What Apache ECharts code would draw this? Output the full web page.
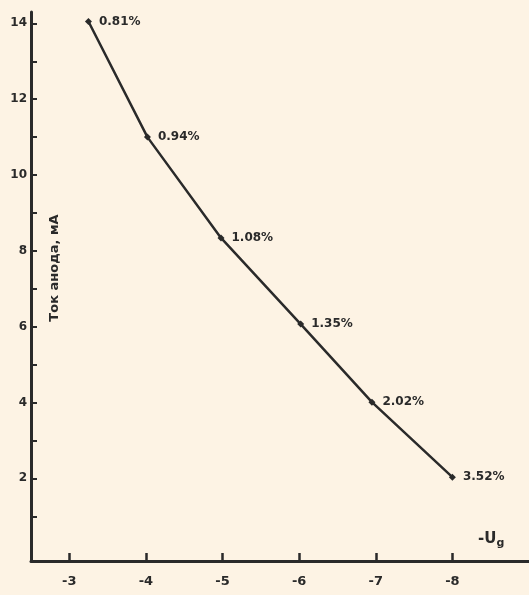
<!DOCTYPE html>
<html><head><meta charset="utf-8">
<script src="https://cdn.jsdelivr.net/npm/echarts@6/dist/echarts.min.js"></script>
<style>html,body{margin:0;padding:0;background:#fdf3e4;}#c{width:529px;height:595px;}</style>
</head><body><div id="c"></div>
<script>
var gridVoltage = [-3.25, -4.02, -4.98, -6.02, -6.95, -8.0];
var anodeCurrent = [14.05, 11.0, 8.34, 6.07, 4.01, 2.03];
var distortion = ['0.81%', '0.94%', '1.08%', '1.35%', '2.02%', '3.52%'];
var xTicks = [-3, -4, -5, -6, -7, -8];
var yTicks = [2, 4, 6, 8, 10, 12, 14];
var yMinorTicks = [1, 2, 3, 4, 5, 6, 7, 8, 9, 10, 11, 12, 13, 14];

var ink = '#2a2a2a';
var font = 'DejaVu Sans';
var chart = echarts.init(document.getElementById('c'));
var pts = gridVoltage.map(function (x, i) { return [x, anodeCurrent[i]]; });
chart.setOption({
  backgroundColor: '#fdf3e4',
  animation: false,
  grid: { left: 31, right: 0, top: 12, bottom: 34 },
  xAxis: {
    type: 'value', inverse: true, min: -9, max: -2.5,
    axisLine: { onZero: false, lineStyle: { color: ink, width: 3 } },
    axisTick: { inside: true, length: 8, lineStyle: { color: ink, width: 2.5 }, customValues: xTicks },
    axisLabel: { customValues: xTicks, color: ink, fontFamily: font, fontWeight: 'bold', fontSize: 13, margin: 14 },
    splitLine: { show: false }
  },
  yAxis: {
    type: 'value', min: -0.18, max: 14.3,
    axisLine: { show: true, onZero: false, lineStyle: { color: ink, width: 3 } },
    axisTick: { inside: true, length: 6, lineStyle: { color: ink, width: 2 }, customValues: yMinorTicks },
    axisLabel: { customValues: yTicks, color: ink, fontFamily: font, fontWeight: 'bold', fontSize: 12, margin: 4 },
    splitLine: { show: false }
  },
  series: [{
    type: 'line', data: pts,
    symbol: 'diamond', symbolSize: 7,
    lineStyle: { color: ink, width: 2.5 },
    itemStyle: { color: ink },
    label: {
      show: true, position: 'right', distance: 7,
      formatter: function (p) { return distortion[p.dataIndex]; },
      color: ink, fontFamily: font, fontWeight: 'bold', fontSize: 12
    }
  }],
  graphic: [
    { type: 'text', left: 478, top: 532,
      style: { text: '-U{s|g}', rich: { s: { fontSize: 11, fontFamily: font, fontWeight: 'bold', fill: ink, padding: [8, 0, 0, 0] } },
               fill: ink, font: 'bold 15px "DejaVu Sans"' } },
    { type: 'text', x: 55, y: 268, rotation: Math.PI / 2,
      style: { text: 'Ток анода, мА', fill: ink, font: 'bold 13px "DejaVu Sans"', align: 'center', verticalAlign: 'middle' } }
  ]
});
</script></body></html>
